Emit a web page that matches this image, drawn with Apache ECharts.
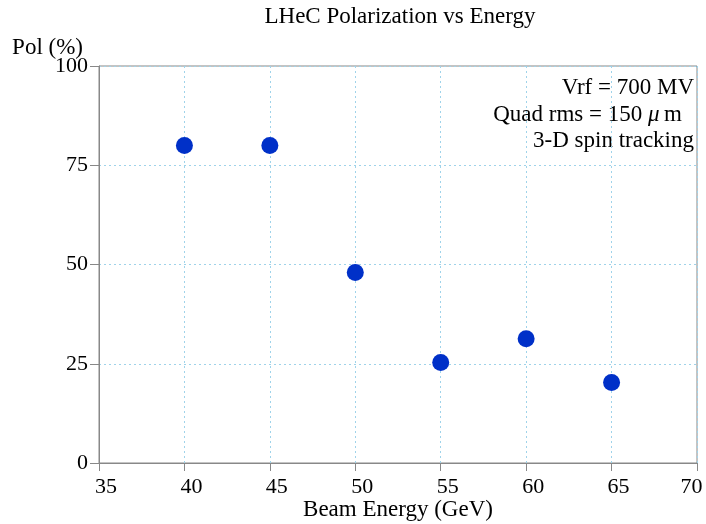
<!DOCTYPE html>
<html><head><meta charset="utf-8">
<script src="https://cdn.jsdelivr.net/npm/echarts@6/dist/echarts.min.js"></script>
<style>html,body{margin:0;padding:0;background:#fff}#c{width:706px;height:524px}</style>
</head><body><div id="c"></div>
<script>
const energies = [40, 45, 50, 55, 60, 65];
const polarization = [80, 80, 48, 25.3, 31.3, 20.3];
const xTicks = [35, 40, 45, 50, 55, 60, 65, 70];
const yTicks = [0, 25, 50, 75, 100];
const notes = ['Vrf = 700 MV', 'Quad rms = 150 {it|μ}\u2009m', '3-D spin tracking'];
const yName = 'Pol (%)';

const F = 'Liberation Serif, Times New Roman, serif';
const FS = 22;
const FN = 23;
const noteRight = [694, 682, 694];
const xMax = xTicks[xTicks.length - 1];
const chart = echarts.init(document.getElementById('c'));
chart.setOption({
  animation: false,
  backgroundColor: '#fff',
  title: {
    text: 'LHeC Polarization vs Energy', left: 395, top: 0, textAlign: 'center',
    textStyle: { fontFamily: F, fontSize: FN, fontWeight: 'normal', color: '#000' }
  },
  grid: { left: 99, right: 9, top: 66, bottom: 61, show: true, borderColor: '#888', borderWidth: 1,
          outerBoundsMode: 'none', containLabel: false },
  xAxis: {
    type: 'value', min: xTicks[0], max: xMax, interval: 5,
    name: 'Beam Energy (GeV)', nameLocation: 'middle', nameGap: 35, nameMoveOverlap: false,
    nameTextStyle: { fontFamily: F, fontSize: FN, color: '#000' },
    axisLine: { show: true, lineStyle: { color: '#888' } },
    axisTick: { show: true, inside: false, length: 8, lineStyle: { color: '#888' } },
    axisLabel: {
      fontFamily: F, fontSize: FS, color: '#000', margin: 13,
      formatter: v => v === xMax ? '{last|' + v + '}' : '{n|' + v + '}',
      rich: {
        n: { fontFamily: F, fontSize: FS, color: '#000', padding: [0, 0, 0, 14] },
        last: { fontFamily: F, fontSize: FS, color: '#000', padding: [0, 11, 0, 0] }
      }
    },
    splitLine: { show: true, lineStyle: { color: '#9fd3ea', type: [2, 3], width: 1 } }
  },
  yAxis: {
    type: 'value', min: yTicks[0], max: yTicks[yTicks.length - 1], interval: 25,
    axisLine: { show: true, lineStyle: { color: '#888' } },
    axisTick: { show: true, inside: false, length: 9, lineStyle: { color: '#888' } },
    axisLabel: { fontFamily: F, fontSize: FS, color: '#000', margin: 11 },
    splitLine: { show: true, lineStyle: { color: '#9fd3ea', type: [2, 3], width: 1 } }
  },
  graphic: [{
    type: 'text', x: 83, y: 48,
    style: { text: yName, fontFamily: F, fontSize: FN, fill: '#000', align: 'right', verticalAlign: 'middle' }
  }].concat(notes.map((t, i) => ({
    type: 'text', x: noteRight[i], y: 88 + i * 26.5,
    style: {
      text: t, fontFamily: F, fontSize: FN, fill: '#000',
      align: 'right', verticalAlign: 'middle',
      rich: { it: { fontStyle: 'italic', fontFamily: F, fontSize: FN, fill: '#000' } }
    }
  }))),
  series: [{
    type: 'scatter', symbol: 'circle', symbolSize: 17,
    itemStyle: { color: '#0030c8', opacity: 1 },
    data: energies.map((e, i) => [e, polarization[i]])
  }]
});
</script></body></html>
